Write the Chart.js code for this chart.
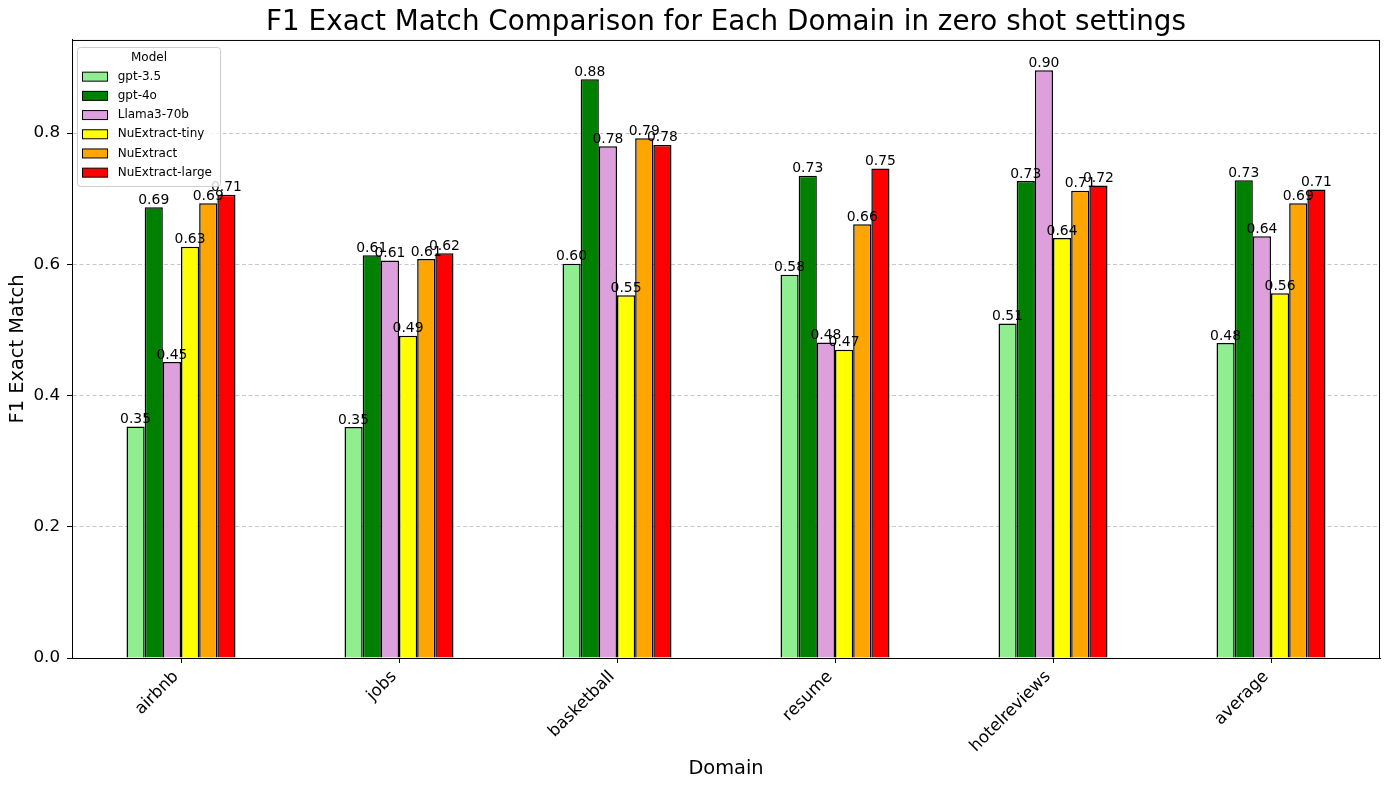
<!DOCTYPE html>
<html>
<head>
<meta charset="utf-8">
<script src="https://cdn.jsdelivr.net/npm/chart.js@4.4.1/dist/chart.umd.min.js"></script>
<style>
  body { margin: 0; background: #fff; }
  #wrap { width: 1389px; height: 790px; }
</style>
</head>
<body>
<div id="wrap"><canvas id="f1Chart" width="1389" height="790"></canvas></div>
<script>
'use strict';

// data
var domains = ['airbnb', 'jobs', 'basketball', 'resume', 'hotelreviews', 'average'];
var models = ['gpt-3.5', 'gpt-4o', 'Llama3-70b', 'NuExtract-tiny', 'NuExtract', 'NuExtract-large'];
var gpt35 = [0.353, 0.352, 0.601, 0.584, 0.510, 0.480];
var gpt4o = [0.687, 0.614, 0.882, 0.735, 0.727, 0.728];
var llama70b = [0.451, 0.606, 0.780, 0.481, 0.896, 0.643];
var nuTiny = [0.627, 0.491, 0.553, 0.470, 0.640, 0.556];
var nuBase = [0.693, 0.608, 0.792, 0.661, 0.712, 0.693];
var nuLarge = [0.706, 0.617, 0.782, 0.746, 0.720, 0.714];
var yTicks = [0.0, 0.2, 0.4, 0.6, 0.8];
var colors = ['#90ee90', '#008000', '#dda0dd', '#ffff00', '#ffa500', '#ff0000'];

var FONT = 'DejaVu Sans';
var series = [gpt35, gpt4o, llama70b, nuTiny, nuBase, nuLarge];

/* 막대 위 값 표시 */
var barValues = {
  id: 'barValues',
  afterDatasetsDraw: function(chart) {
    var ctx = chart.ctx;
    ctx.save();
    ctx.font = '13.9px "' + FONT + '"';
    ctx.fillStyle = '#000';
    ctx.textAlign = 'center';
    ctx.textBaseline = 'alphabetic';
    chart.data.datasets.forEach(function(ds, i) {
      chart.getDatasetMeta(i).data.forEach(function(bar, j) {
        ctx.fillText(ds.data[j].toFixed(2), bar.x, bar.y - 3.5);
      });
    });
    ctx.restore();
  }
};

/* frame + legend inside the plot */
var frameLegend = {
  id: 'frameLegend',
  afterDraw: function(chart) {
    var ctx = chart.ctx;
    var a = chart.chartArea;
    ctx.save();
    ctx.strokeStyle = '#000';
    ctx.lineWidth = 1;
    ctx.strokeRect(a.left + 0.5, a.top + 0.5, a.right - a.left - 1, a.bottom - a.top);

    var bx = a.left + 5, by = a.top + 7, bw = 143, bh = 139;
    ctx.beginPath();
    ctx.roundRect(bx + 0.5, by + 0.5, bw, bh, 3);
    ctx.fillStyle = 'rgba(255,255,255,0.8)';
    ctx.fill();
    ctx.strokeStyle = '#cccccc';
    ctx.stroke();

    ctx.fillStyle = '#000';
    ctx.font = '12px "' + FONT + '"';
    ctx.textAlign = 'center';
    ctx.textBaseline = 'middle';
    ctx.fillText('Model', bx + bw / 2 + 0.5, by + 10.5);

    ctx.textAlign = 'left';
    chart.data.datasets.forEach(function(ds, i) {
      var cy = by + 29.7 + i * 19.2;
      ctx.fillStyle = ds.backgroundColor;
      ctx.fillRect(bx + 5.5, cy - 4.5, 25, 9);
      ctx.strokeStyle = '#000';
      ctx.strokeRect(bx + 5.5, cy - 4.5, 25, 9);
      ctx.fillStyle = '#000';
      ctx.fillText(ds.label, bx + 40.7, cy);
    });
    ctx.restore();
  }
};

var datasets = models.map(function(name, i) {
  return {
    label: name,
    data: series[i],
    backgroundColor: colors[i],
    borderColor: '#000',
    borderWidth: 1.5,
    inflateAmount: 0,
    borderSkipped: 'bottom',
    categoryPercentage: 0.5,
    barPercentage: 1.0
  };
});

new Chart(document.getElementById('f1Chart'), {
  type: 'bar',
  data: { labels: domains, datasets: datasets },
  options: {
    responsive: false,
    animation: false,
    layout: { padding: { top: 0, right: 9, left: 0, bottom: 0 } },
    plugins: {
      legend: { display: false },
      tooltip: { enabled: false },
      title: {
        display: true,
        fullSize: false,
        text: 'F1 Exact Match Comparison for Each Domain in zero shot settings',
        color: '#000',
        font: { family: FONT, size: 27.8, weight: 'normal' },
        padding: { top: 6, bottom: 0.6 }
      }
    },
    scales: {
      x: {
        offset: true,
        afterFit: function(scale) { scale.height = 132; },
        grid: { display: true, offset: false, drawOnChartArea: false, drawTicks: true, tickLength: 5, tickColor: '#000' },
        border: { display: true, color: '#000', width: 1 },
        ticks: {
          color: '#000', autoSkip: false, minRotation: 45, maxRotation: 45, padding: 4, labelOffset: -5,
          font: { family: FONT, size: 16.7 }
        },
        title: {
          display: true, text: 'Domain', color: '#000',
          font: { family: FONT, size: 19.4 },
          padding: { top: 0, bottom: 9.5 }
        }
      },
      y: {
        min: 0,
        max: 0.942,
        afterFit: function(scale) { scale.width = 72; },
        afterBuildTicks: function(scale) {
          scale.ticks = yTicks.map(function(v) { return { value: v }; });
        },
        grid: { color: '#c8c8c8', lineWidth: 1, tickLength: 5, tickColor: '#000' },
        border: { display: true, color: '#000', width: 1, dash: [4, 2.5] },
        ticks: {
          color: '#000', padding: 7,
          font: { family: FONT, size: 16.7 },
          callback: function(v) { return Number(v).toFixed(1); }
        },
        title: {
          display: true, text: 'F1 Exact Match', color: '#000',
          font: { family: FONT, size: 19.4 },
          padding: { top: 6.5, bottom: 0 }
        }
      }
    }
  },
  plugins: [barValues, frameLegend]
});
</script>
</body>
</html>
